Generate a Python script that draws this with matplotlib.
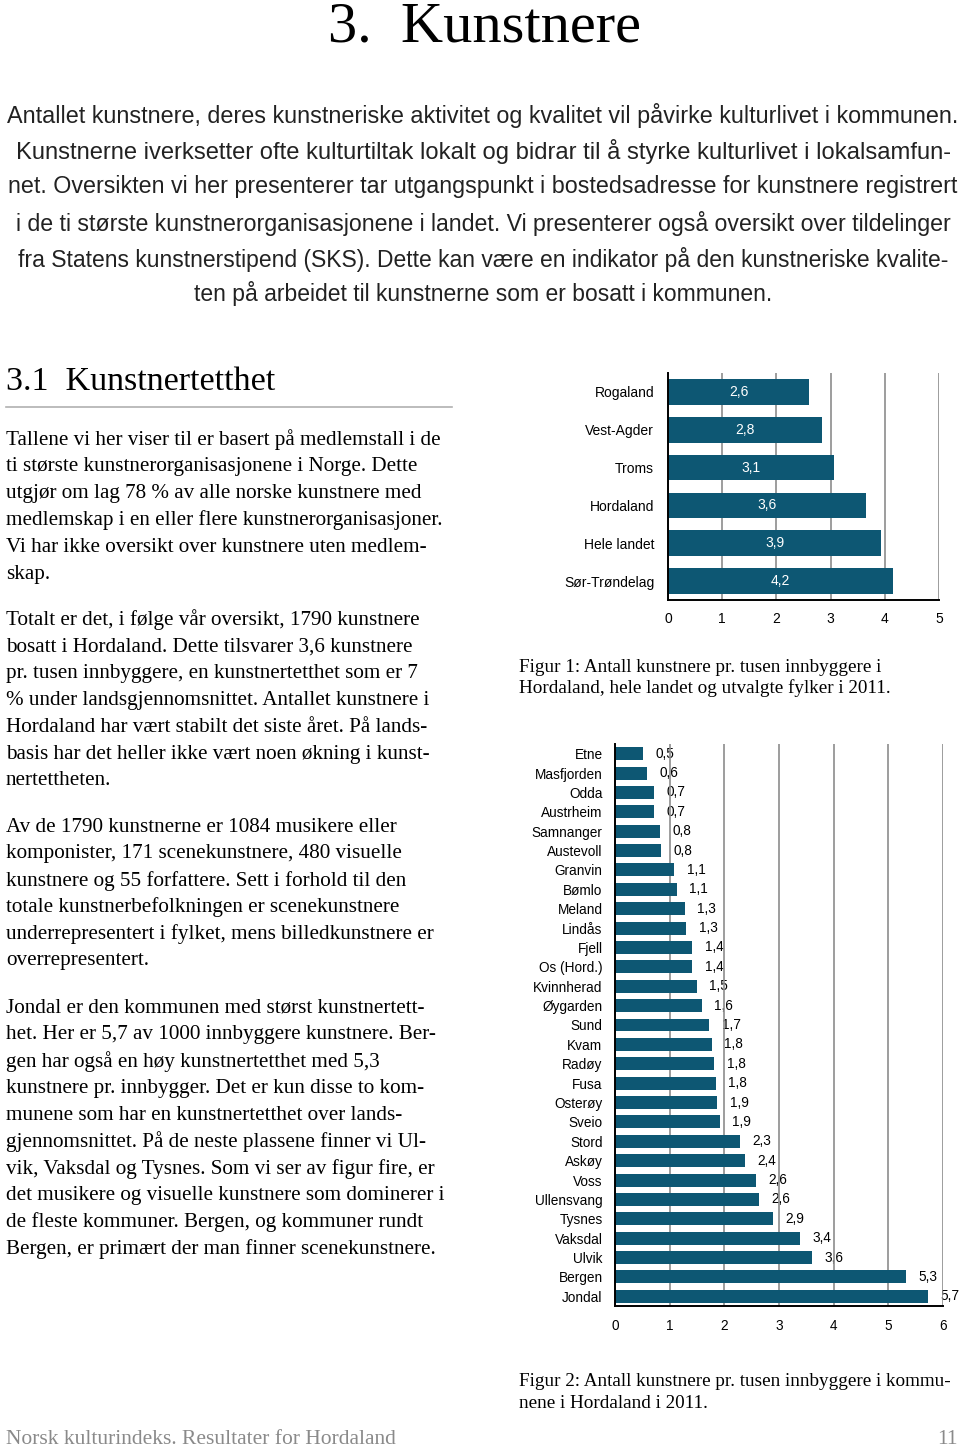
import matplotlib

matplotlib.use("Agg")
import matplotlib.pyplot as plt
import numpy as np

W, H = 960, 1448

# Figur 1 data
fylker = ["Rogaland", "Vest-Agder", "Troms", "Hordaland", "Hele landet", "Sør-Trøndelag"]
fylke_verdier = [2.61, 2.84, 3.06, 3.65, 3.93, 4.16]

# Figur 2 data
kommuner = [
    "Etne", "Masfjorden", "Odda", "Austrheim", "Samnanger", "Austevoll",
    "Granvin", "Bømlo", "Meland", "Lindås", "Fjell", "Os (Hord.)",
    "Kvinnherad", "Øygarden", "Sund", "Kvam", "Radøy", "Fusa", "Osterøy",
    "Sveio", "Stord", "Askøy", "Voss", "Ullensvang", "Tysnes", "Vaksdal",
    "Ulvik", "Bergen", "Jondal",
]
kommune_verdier = [
    0.51, 0.59, 0.72, 0.72, 0.83, 0.84, 1.08, 1.13, 1.28, 1.30, 1.41, 1.41,
    1.50, 1.59, 1.72, 1.77, 1.82, 1.84, 1.87, 1.92, 2.29, 2.37, 2.58, 2.64,
    2.89, 3.39, 3.60, 5.32, 5.72,
]

intro_lines = [
    "Antallet kunstnere, deres kunstneriske aktivitet og kvalitet vil påvirke kulturlivet i kommunen.",
    "Kunstnerne iverksetter ofte kulturtiltak lokalt og bidrar til å styrke kulturlivet i lokalsamfun-",
    "net. Oversikten vi her presenterer tar utgangspunkt i bostedsadresse for kunstnere registrert",
    "i de ti største kunstnerorganisasjonene i landet. Vi presenterer også oversikt over tildelinger",
    "fra Statens kunstnerstipend (SKS). Dette kan være en indikator på den kunstneriske kvalite-",
    "ten på arbeidet til kunstnerne som er bosatt i kommunen.",
]
intro_y = [116, 152, 187, 223, 259, 294]
# justified line widths in the reference (last line is not justified)
intro_widths = [950, 932, 947, 935, 928, None]

paragraphs = [
    (440, [
        "Tallene vi her viser til er basert på medlemstall i de",
        "ti største kunstnerorganisasjonene i Norge. Dette",
        "utgjør om lag 78 % av alle norske kunstnere med",
        "medlemskap i en eller flere kunstnerorganisasjoner.",
        "Vi har ikke oversikt over kunstnere uten medlem-",
        "skap.",
    ]),
    (620, [
        "Totalt er det, i følge vår oversikt, 1790 kunstnere",
        "bosatt i Hordaland. Dette tilsvarer 3,6 kunstnere",
        "pr. tusen innbyggere, en kunstnertetthet som er 7",
        "% under landsgjennomsnittet. Antallet kunstnere i",
        "Hordaland har vært stabilt det siste året. På lands-",
        "basis har det heller ikke vært noen økning i kunst-",
        "nertettheten.",
    ]),
    (827, [
        "Av de 1790 kunstnerne er 1084 musikere eller",
        "komponister, 171 scenekunstnere, 480 visuelle",
        "kunstnere og 55 forfattere. Sett i forhold til den",
        "totale kunstnerbefolkningen er scenekunstnere",
        "underrepresentert i fylket, mens billedkunstnere er",
        "overrepresentert.",
    ]),
    (1008, [
        "Jondal er den kommunen med størst kunstnertett-",
        "het. Her er 5,7 av 1000 innbyggere kunstnere. Ber-",
        "gen har også en høy kunstnertetthet med 5,3",
        "kunstnere pr. innbygger. Det er kun disse to kom-",
        "munene som har en kunstnertetthet over lands-",
        "gjennomsnittet. På de neste plassene finner vi Ul-",
        "vik, Vaksdal og Tysnes. Som vi ser av figur fire, er",
        "det musikere og visuelle kunstnere som dominerer i",
        "de fleste kommuner. Bergen, og kommuner rundt",
        "Bergen, er primært der man finner scenekunstnere.",
    ]),
]

BAR = "#0d5773"
GRID = "#8c8c8c"
SERIF = ["Liberation Serif", "DejaVu Serif"]
SANS = ["Liberation Sans", "DejaVu Sans"]


def fx(x):
    return x / W


def fy(y):
    return 1 - y / H


def axes_px(fig, left, top, right, bottom):
    return fig.add_axes([fx(left), fy(bottom), (right - left) / W, (bottom - top) / H])


def fit_width(fig, txt, width):
    # scale the font size so the line fills the given pixel width
    renderer = fig.canvas.get_renderer()
    now = txt.get_window_extent(renderer).width
    txt.set_fontsize(txt.get_fontsize() * width / now)


def style_axes(ax, xmax, labelsize, ypad):
    ax.set_xlim(0, xmax)
    ax.set_xticks(np.arange(0, xmax + 1))
    ax.set_axisbelow(True)
    ax.grid(axis="x", color=GRID, linewidth=1.2)
    ax.grid(axis="y", visible=False)
    for side in ["top", "right"]:
        ax.spines[side].set_visible(False)
    for side in ["left", "bottom"]:
        ax.spines[side].set_linewidth(1.4)
        ax.spines[side].set_color("black")
    ax.tick_params(length=0, labelsize=labelsize)
    ax.tick_params(axis="x", pad=9)
    ax.tick_params(axis="y", pad=ypad)
    for lab in ax.get_xticklabels() + ax.get_yticklabels():
        lab.set_family(SANS)


fig = plt.figure(figsize=(W / 100, H / 100), dpi=100)

# Page text
fig.text(fx(484), fy(42), "3.  Kunstnere", family=SERIF, fontsize=42,
         ha="center", va="baseline")
for line, y, width in zip(intro_lines, intro_y, intro_widths):
    t = fig.text(fx(483), fy(y), line, family=SANS, fontsize=16.5,
                 ha="center", va="center", color="#222222")
    if width:
        fit_width(fig, t, width)

fig.text(fx(6), fy(382), "3.1  Kunstnertetthet", family=SERIF, fontsize=24.5,
         ha="left", va="center")
fig.add_artist(plt.Line2D([fx(6), fx(452)], [fy(407), fy(407)],
                          color="#b0b0b0", linewidth=1.2))

for y0, lines in paragraphs:
    for i, line in enumerate(lines):
        fig.text(fx(6), fy(y0 + i * 26.8), line, family=SERIF, fontsize=15.2,
                 ha="left", va="center")

fig.text(fx(519), fy(667), "Figur 1: Antall kunstnere pr. tusen innbyggere i",
         family=SERIF, fontsize=13.8, ha="left", va="center")
fig.text(fx(519), fy(688), "Hordaland, hele landet og utvalgte fylker i 2011.",
         family=SERIF, fontsize=13.8, ha="left", va="center")
fig.text(fx(519), fy(1382), "Figur 2: Antall kunstnere pr. tusen innbyggere i kommu-",
         family=SERIF, fontsize=13.8, ha="left", va="center")
fig.text(fx(519), fy(1403), "nene i Hordaland i 2011.",
         family=SERIF, fontsize=13.8, ha="left", va="center")

fig.text(fx(6), fy(1440), "Norsk kulturindeks. Resultater for Hordaland",
         family=SERIF, fontsize=15.5, ha="left", va="center", color="#8a8a8a")
fig.text(fx(958), fy(1440), "11", family=SERIF, fontsize=15.5,
         ha="right", va="center", color="#8a8a8a")

# Figur 1
ax1 = axes_px(fig, 668, 373, 939, 600)
y1 = np.arange(len(fylker))
ax1.barh(y1, fylke_verdier, height=0.68, color=BAR)
ax1.set_ylim(len(fylker) - 0.5, -0.5)
ax1.set_yticks(y1, fylker)
style_axes(ax1, 5, 10, 10)
for yy, v in zip(y1, fylke_verdier):
    ax1.text(v / 2, yy, f"{v:.1f}".replace(".", ","), color="white",
             ha="center", va="center", fontsize=10, family=SANS)

# Figur 2
ax2 = axes_px(fig, 615, 744, 943, 1306)
y2 = np.arange(len(kommuner))
ax2.barh(y2, kommune_verdier, height=0.67, color=BAR)
ax2.set_ylim(len(kommuner) - 0.5, -0.5)
ax2.set_yticks(y2, kommuner)
style_axes(ax2, 6, 9.8, 9)
for yy, v in zip(y2, kommune_verdier):
    ax2.annotate(f"{v:.1f}".replace(".", ","), (v, yy), xytext=(9, 0),
                 textcoords="offset points", ha="left", va="center",
                 fontsize=9.8, family=SANS, zorder=0.3)

fig.savefig("out.png", dpi=100)
